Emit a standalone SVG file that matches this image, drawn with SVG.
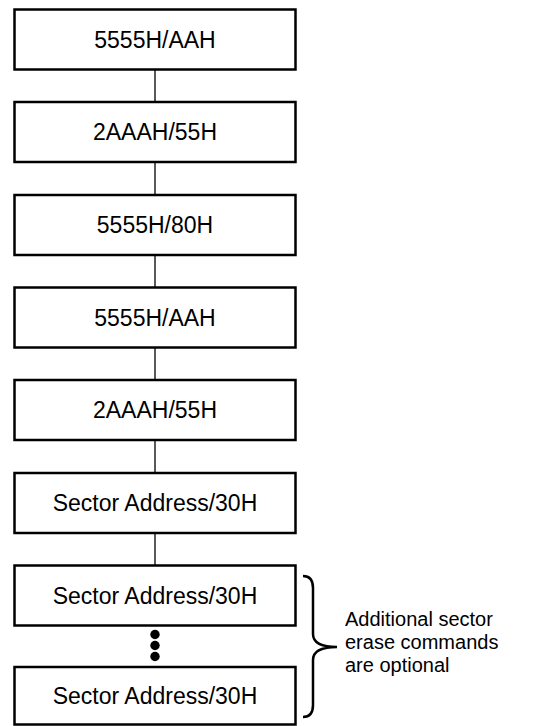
<svg xmlns="http://www.w3.org/2000/svg" width="538" height="726" viewBox="0 0 538 726">
<style>
.box{fill:#fff;stroke:#000;stroke-width:2.5}
.t{font-family:"Liberation Sans",Arial,sans-serif;font-size:23px;fill:#000;text-anchor:middle}
.n{font-family:"Liberation Sans",Arial,sans-serif;font-size:20px;fill:#000}
.c{stroke:#000;stroke-width:1.3;fill:none}
</style>
<rect width="538" height="726" fill="#fff"/>
<g id="connectors">
<line class="c" x1="155" y1="69.5" x2="155" y2="102"/>
<line class="c" x1="155" y1="162" x2="155" y2="195"/>
<line class="c" x1="155" y1="255" x2="155" y2="287.5"/>
<line class="c" x1="155" y1="347.5" x2="155" y2="380"/>
<line class="c" x1="155" y1="440" x2="155" y2="473"/>
<line class="c" x1="155" y1="533" x2="155" y2="565.5"/>
</g>
<g id="n1"><rect class="box" x="14.5" y="9.5" width="281" height="60"/><text class="t" x="155" y="47.7">5555H/AAH</text></g>
<g id="n2"><rect class="box" x="14.5" y="102" width="281" height="60"/><text class="t" x="155" y="140.2">2AAAH/55H</text></g>
<g id="n3"><rect class="box" x="14.5" y="195" width="281" height="60"/><text class="t" x="155" y="233.2">5555H/80H</text></g>
<g id="n4"><rect class="box" x="14.5" y="287.5" width="281" height="60"/><text class="t" x="155" y="325.7">5555H/AAH</text></g>
<g id="n5"><rect class="box" x="14.5" y="380" width="281" height="60"/><text class="t" x="155" y="418.2">2AAAH/55H</text></g>
<g id="n6"><rect class="box" x="14.5" y="473" width="281" height="60"/><text class="t" x="155" y="511.2">Sector Address/30H</text></g>
<g id="n7"><rect class="box" x="14.5" y="565.5" width="281" height="60"/><text class="t" x="155" y="603.7">Sector Address/30H</text></g>
<g id="dots"><circle cx="155" cy="634.5" r="4.7"/><circle cx="155" cy="645.5" r="4.7"/><circle cx="155" cy="656.5" r="4.7"/></g>
<g id="n8"><rect class="box" x="14.5" y="667" width="281" height="57.5"/><text class="t" x="155" y="704.2">Sector Address/30H</text></g>
<g id="brace"><path d="M303,576 Q313,576 313,588 L313,634 Q313,647 337,647 Q313,647 313,660 L313,705 Q313,717 303,717" fill="none" stroke="#000" stroke-width="2.5"/></g>
<g id="note"><text class="n" x="345" y="626">Additional sector</text><text class="n" x="345" y="649">erase commands</text><text class="n" x="345" y="672">are optional</text></g>
</svg>
